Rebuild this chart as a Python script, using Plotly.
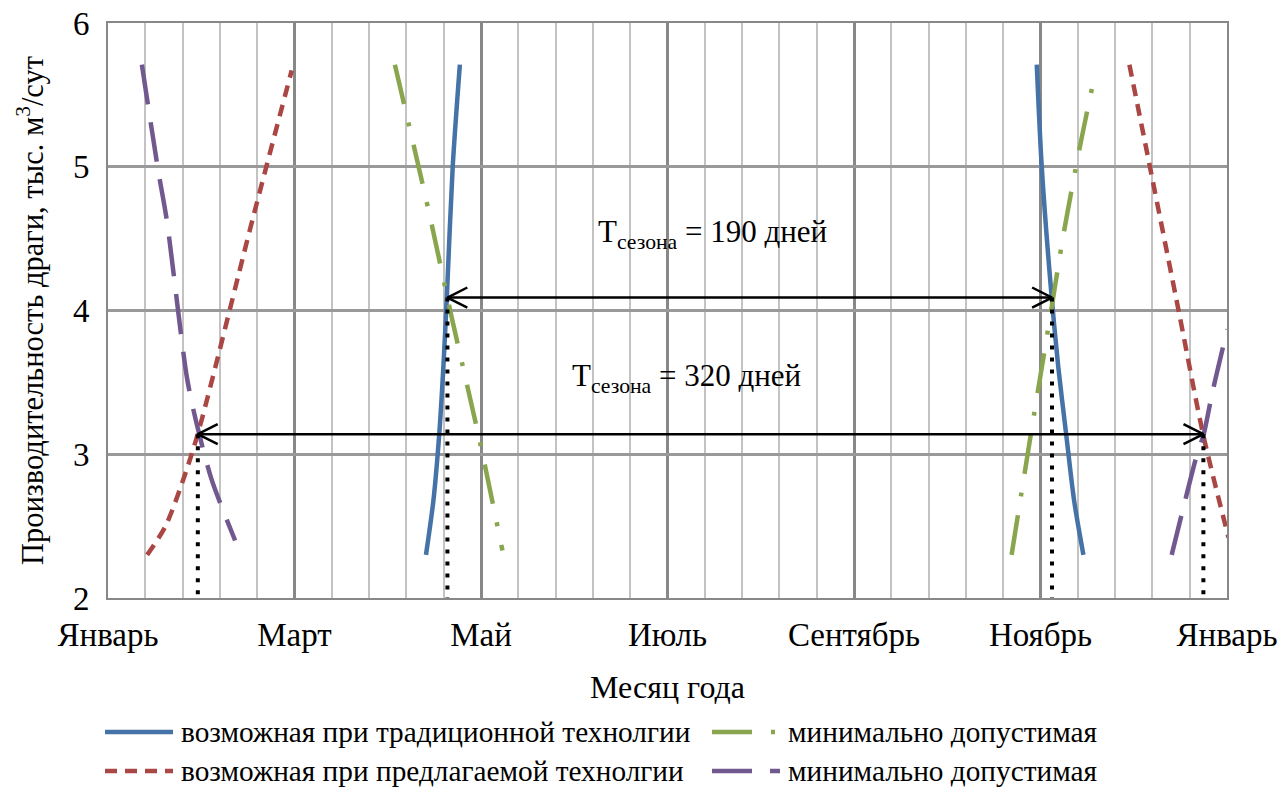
import plotly.graph_objects as go

# ---------------- data ----------------
month_ticks = [0, 60, 120, 180, 240, 300, 360]
month_labels = ["Январь", "Март", "Май", "Июль", "Сентябрь", "Ноябрь", "Январь"]

# possible productivity, traditional technology (spring / autumn branches)
trad_spring_x = [102.3, 104.7, 106.6, 107.9, 109.0, 110.9, 113.2]
trad_spring_y = [2.30, 2.68, 3.15, 3.61, 4.09, 5.00, 5.71]
trad_autumn_x = [298.8, 300.4, 303.6, 305.7, 308.2, 310.8, 313.8]
trad_autumn_y = [5.71, 5.00, 4.09, 3.61, 3.15, 2.68, 2.30]

# minimal admissible for traditional technology
min_trad_spring_x = [92.3, 103.3, 110.6, 119.7, 126.9]
min_trad_spring_y = [5.71, 4.68, 3.95, 3.08, 2.33]
min_trad_autumn_x = [290.7, 297.2, 302.9, 307.4, 312.5, 316.7]
min_trad_autumn_y = [2.30, 3.18, 3.93, 4.53, 5.12, 5.56]

# possible productivity, proposed technology
prop_spring_x = [12.6, 18.5, 24.0, 29.0, 46.7, 59.1]
prop_spring_y = [2.30, 2.50, 2.81, 3.15, 4.65, 5.67]
prop_autumn_x = [328.6, 335.2, 344.7, 352.4, 360.5]
prop_autumn_y = [5.71, 5.00, 3.97, 3.13, 2.42]

# minimal admissible for proposed technology
min_prop_spring_x = [10.9, 16.1, 18.9, 25.5, 29.0, 33.4, 40.9]
min_prop_spring_y = [5.71, 4.98, 4.63, 3.52, 3.17, 2.82, 2.40]
min_prop_autumn_x = [342.2, 345.4, 350.5, 352.4, 355.4, 360.1]
min_prop_autumn_y = [2.30, 2.58, 3.01, 3.13, 3.44, 3.87]

# season boundaries (intersection points)
season_start = [109.2, 28.9]
season_end = [303.7, 352.4]
season_level = [4.09, 3.14]
season_labels = ["T<sub>сезона</sub> = 190 дней", "T<sub>сезона</sub> = 320 дней"]

legend_labels = ["возможная при традиционной технолгии", "минимально допустимая",
                 "возможная при предлагаемой технолгии", "минимально допустимая"]

# ---------------- styles ----------------
FONT = "Liberation Serif, Times New Roman, serif"
BLUE, RED, GREEN, PURPLE = "#4572A7", "#AA4643", "#89A54E", "#71588F"
styles = [
    dict(color=BLUE, width=4.5, dash="solid"),
    dict(color=GREEN, width=4.5, dash="40px,19px,4px,19px"),
    dict(color=RED, width=4.5, dash="12px,8px"),
    dict(color=PURPLE, width=4.5, dash="40px,18px"),
]

fig = go.Figure()

series = [
    (trad_spring_x, trad_spring_y, 0), (trad_autumn_x, trad_autumn_y, 0),
    (min_trad_spring_x, min_trad_spring_y, 1), (min_trad_autumn_x, min_trad_autumn_y, 1),
    (prop_spring_x, prop_spring_y, 2), (prop_autumn_x, prop_autumn_y, 2),
    (min_prop_spring_x, min_prop_spring_y, 3), (min_prop_autumn_x, min_prop_autumn_y, 3),
]
for xs, ys, si in series:
    fig.add_trace(go.Scatter(x=xs, y=ys, mode="lines", line=dict(shape="spline", smoothing=0.8, **styles[si]),
                             showlegend=False, hoverinfo="skip"))

# dotted verticals and double arrows
HEAD_DX = 6.4
HEAD_DY = 0.07
for xs_, xe_, lv in zip(season_start, season_end, season_level):
    for xv in (xs_, xe_):
        fig.add_trace(go.Scatter(x=[xv, xv], y=[lv, 2], mode="lines",
                                 line=dict(color="black", width=4, dash="4px,8px"),
                                 showlegend=False, hoverinfo="skip"))
    fig.add_trace(go.Scatter(x=[xs_, xe_], y=[lv, lv], mode="lines",
                             line=dict(color="black", width=2.5), showlegend=False, hoverinfo="skip"))
    fig.add_trace(go.Scatter(x=[xs_ + HEAD_DX, xs_, xs_ + HEAD_DX], y=[lv + HEAD_DY, lv, lv - HEAD_DY],
                             mode="lines", line=dict(color="black", width=2.5), showlegend=False, hoverinfo="skip"))
    fig.add_trace(go.Scatter(x=[xe_ - HEAD_DX, xe_, xe_ - HEAD_DX], y=[lv + HEAD_DY, lv, lv - HEAD_DY],
                             mode="lines", line=dict(color="black", width=2.5), showlegend=False, hoverinfo="skip"))

annotations = [
    dict(x=194.6, y=4.53, xref="x", yref="y", text=season_labels[0], showarrow=False,
         font=dict(family=FONT, size=31, color="black")),
    dict(x=186.2, y=3.53, xref="x", yref="y", text=season_labels[1], showarrow=False,
         font=dict(family=FONT, size=31, color="black")),
]

# manual legend (2 x 2)
shapes = []
leg_pos = [(105, 173, 732), (712, 780, 732), (105, 173, 771), (712, 780, 771)]
W, H = 1279, 787
for (x0, x1, yy), st, lab in zip(leg_pos, styles, legend_labels):
    shapes.append(dict(type="line", xref="paper", yref="paper",
                       x0=(x0 - 108) / 1119, x1=(x1 - 108) / 1119,
                       y0=(598 - yy) / 575, y1=(598 - yy) / 575,
                       line=dict(color=st["color"], width=st["width"], dash=st["dash"])))
    annotations.append(dict(x=(x1 + 6 - 108) / 1119, y=(598 - yy) / 575, xref="paper", yref="paper",
                            xanchor="left", yanchor="middle", text=lab, showarrow=False,
                            font=dict(family=FONT, size=29.3, color="black")))

fig.update_layout(
    width=W, height=H,
    margin=dict(l=108, r=52, t=23, b=189, autoexpand=False),
    plot_bgcolor="white", paper_bgcolor="white",
    font=dict(family=FONT, color="black"),
    showlegend=False,
    annotations=annotations,
    shapes=shapes,
    xaxis=dict(range=[0, 360], tickmode="array", tickvals=month_ticks, ticktext=month_labels,
               showgrid=True, gridcolor="#888888", gridwidth=3,
               minor=dict(tickmode="linear", tick0=0, dtick=12, showgrid=True, gridcolor="#c3c3c3", gridwidth=2),
               showline=True, linecolor="#888888", linewidth=2, mirror=True, zeroline=False,
               automargin=False,
               ticks="", ticklabelstandoff=6, tickfont=dict(family=FONT, size=33, color="black"),
               title=dict(text="Месяц года", font=dict(family=FONT, size=32, color="black"), standoff=24)),
    yaxis=dict(range=[2, 6], dtick=1, showgrid=True, gridcolor="#999999", gridwidth=2.5,
               showline=True, linecolor="#888888", linewidth=2, mirror=True, zeroline=False,
               automargin=False,
               ticks="", ticklabelstandoff=10, tickfont=dict(family=FONT, size=33, color="black"),
               title=dict(text="Производительность драги, тыс. м<sup>3</sup>/сут",
                          font=dict(family=FONT, size=30.5, color="black"), standoff=20)),
)

fig.write_html("out.html")
